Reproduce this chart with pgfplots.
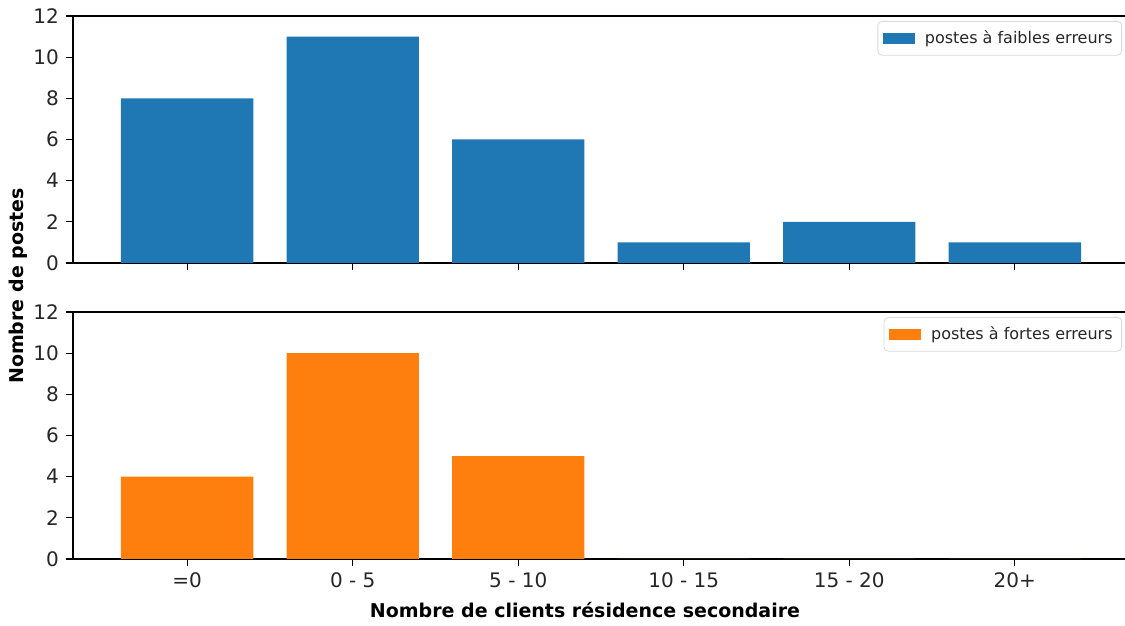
\documentclass[border=0pt]{standalone}
\usepackage{fontspec}
\setmainfont{DejaVu Sans}
\usepackage{pgfplots}
\pgfplotsset{compat=1.18}
\definecolor{mblue}{HTML}{1F77B4}
\definecolor{morange}{HTML}{FF7F0E}
\pgfplotsset{
  mystyle/.style={
    width=528pt, height=123.5pt, scale only axis,
    xmin=-0.69, xmax=5.69, ymin=0, ymax=12,
    ytick={0,2,...,12}, xtick={0,...,5},
    axis x line=box, axis y line=left,
    axis line style={-, black, line width=0.6pt},
    tick pos=left, tick align=outside, major tick length=3.5pt,
    tick style={black, line width=0.6pt},
    /pgf/number format/assume math mode=true,
    ticklabel style={font=\fontsize{10}{12}\selectfont, text=black!85},
    ybar, bar width=0.8, bar shift=0pt,
    legend style={at={(1,1)}, anchor=north east, xshift=-3.5pt, yshift=-2.5pt,
      draw=black!15, rounded corners=2pt, fill=white,
      font=\fontsize{8}{10}\selectfont, text=black!85,
      inner xsep=2.5pt, inner ysep=2.5pt},
    legend image code/.code={\fill[##1, draw=none, sharp corners] (0pt,-2.75pt) rectangle (16pt,2.75pt); \path (19pt,0pt);},
  }
}
\begin{document}
\begin{tikzpicture}
\useasboundingbox (0,0) rectangle (562.5pt,313pt);
\begin{axis}[mystyle, at={(36.5pt,181.5pt)}, anchor=south west, xticklabels={}]
\addplot[fill=mblue, draw=none] coordinates {(0,8) (1,11) (2,6) (3,1) (4,2) (5,1)};
\addlegendentry{postes à faibles erreurs}
\end{axis}
\begin{axis}[mystyle, at={(36.5pt,33.5pt)}, anchor=south west,
  xticklabels={{=0},{0 - 5},{5 - 10},{10 - 15},{15 - 20},{20+}}]
\addplot[fill=morange, draw=none] coordinates {(0,4) (1,10) (2,5) (3,0) (4,0) (5,0)};
\addlegendentry{postes à fortes erreurs}
\end{axis}
\node[rotate=90, font=\bfseries\fontsize{9.5}{12}\selectfont] at (9pt,170pt) {Nombre de postes};
\node[font=\bfseries\fontsize{9.5}{12}\selectfont] at (292.5pt,8pt) {Nombre de clients résidence secondaire};
\end{tikzpicture}
\end{document}
